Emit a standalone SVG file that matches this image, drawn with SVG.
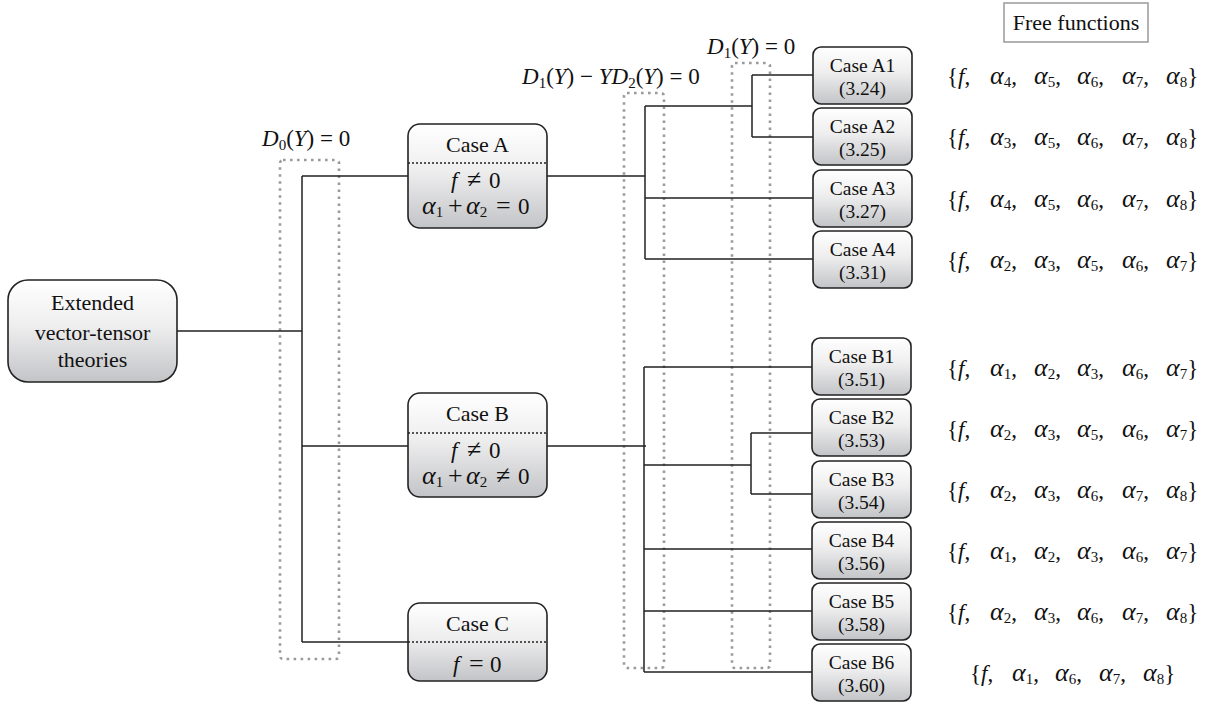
<svg xmlns="http://www.w3.org/2000/svg" width="1220" height="702" viewBox="0 0 1220 702">
<defs>
<linearGradient id="g" x1="0" y1="0" x2="0" y2="1">
<stop offset="0" stop-color="#ffffff"/>
<stop offset="0.45" stop-color="#eeeeef"/>
<stop offset="1" stop-color="#c3c4c7"/>
</linearGradient>
</defs>
<style>
.box{fill:url(#g);stroke:#222;stroke-width:1.6}
.div{stroke:#222;stroke-width:1.4;stroke-dasharray:2 2;fill:none}
.dot{fill:none;stroke:#9a9a9a;stroke-width:2.6;stroke-dasharray:2.6 4.4}
.ln{fill:none;stroke:#222;stroke-width:1.5}
text{font-family:"Liberation Serif","Times New Roman",serif;fill:#111}
.big{font-size:22px;text-anchor:middle}
.sm{font-size:19.5px;text-anchor:middle}
.m{font-size:23px}
.i{font-style:italic}
.a{font-style:italic;font-size:26px}
.sb{font-size:15px;font-style:normal}
.op{font-size:26px}
</style>

<g id="constraints">
<rect class="dot" x="280" y="160" width="59" height="499" rx="3"/>
<rect class="dot" x="624" y="93" width="40" height="575" rx="3"/>
<rect class="dot" x="732" y="63" width="38" height="605" rx="3"/>
<text class="m" x="262" y="146"><tspan class="i">D</tspan><tspan class="sb" dy="4">0</tspan><tspan dy="-4">(</tspan><tspan class="i">Y</tspan><tspan>) = 0</tspan></text>
<text class="m" x="522" y="84"><tspan class="i">D</tspan><tspan class="sb" dy="4">1</tspan><tspan dy="-4">(</tspan><tspan class="i">Y</tspan><tspan>) − </tspan><tspan class="i">YD</tspan><tspan class="sb" dy="4">2</tspan><tspan dy="-4">(</tspan><tspan class="i">Y</tspan><tspan>) = 0</tspan></text>
<text class="m" x="707" y="54"><tspan class="i">D</tspan><tspan class="sb" dy="4">1</tspan><tspan dy="-4">(</tspan><tspan class="i">Y</tspan><tspan>) = 0</tspan></text>
</g>

<g id="connectors">
<path class="ln" d="M177 331 H302 M302 176 V642 M302 176 H408 M302 446 H408 M302 642 H408"/>
<path class="ln" d="M547 176 H645 M645 106 V259 M645 106 H752 M752 75 V137 M752 75 H813 M752 137 H813 M645 198 H813 M645 259 H813"/>
<path class="ln" d="M547 446 H646 M644 367 V672 M644 367 H812 M644 465 H751 M751 433 V494 M751 433 H812 M751 494 H812 M644 549 H812 M644 611 H812 M644 672 H812"/>
</g>

<g id="root">
<rect class="box" x="8" y="280" width="169" height="102" rx="20"/>
<text class="big" x="92.5" y="310">Extended</text>
<text class="big" x="92.5" y="340">vector-tensor</text>
<text class="big" x="92.5" y="367">theories</text>
</g>

<g id="caseA">
<rect class="box" x="408" y="124" width="139" height="104" rx="12"/>
<line class="div" x1="408" y1="163" x2="547" y2="163"/>
<text class="big" x="477.5" y="152">Case A</text>
<text class="m" y="188"><tspan x="451" class="i">f</tspan><tspan x="467" class="op">≠</tspan><tspan x="489">0</tspan></text>
<text class="m" y="214"><tspan x="422" class="a">α</tspan><tspan class="sb" dy="3">1</tspan><tspan dy="-3" x="448" class="op">+</tspan><tspan x="466" class="a">α</tspan><tspan class="sb" dy="3">2</tspan><tspan dy="-3" x="496" class="op">=</tspan><tspan x="518">0</tspan></text>
</g>

<g id="caseB">
<rect class="box" x="408" y="393" width="139" height="104" rx="12"/>
<line class="div" x1="408" y1="433" x2="547" y2="433"/>
<text class="big" x="477.5" y="421">Case B</text>
<text class="m" y="458"><tspan x="451" class="i">f</tspan><tspan x="467" class="op">≠</tspan><tspan x="489">0</tspan></text>
<text class="m" y="484"><tspan x="422" class="a">α</tspan><tspan class="sb" dy="3">1</tspan><tspan dy="-3" x="448" class="op">+</tspan><tspan x="466" class="a">α</tspan><tspan class="sb" dy="3">2</tspan><tspan dy="-3" x="496" class="op">≠</tspan><tspan x="518">0</tspan></text>
</g>

<g id="caseC">
<rect class="box" x="408" y="603" width="139" height="78" rx="12"/>
<line class="div" x1="408" y1="642" x2="547" y2="642"/>
<text class="big" x="477.5" y="631">Case C</text>
<text class="m" y="672"><tspan x="453" class="i">f</tspan><tspan x="469" class="op">=</tspan><tspan x="490">0</tspan></text>
</g>

<g id="caseA1"><rect class="box" x="813" y="47" width="99" height="57" rx="8"/><text class="sm" x="862.5" y="72">Case A1</text><text class="sm" x="862.5" y="95">(3.24)</text></g>
<g id="caseA2"><rect class="box" x="813" y="108" width="99" height="57" rx="8"/><text class="sm" x="862.5" y="133">Case A2</text><text class="sm" x="862.5" y="156">(3.25)</text></g>
<g id="caseA3"><rect class="box" x="813" y="170" width="99" height="57" rx="8"/><text class="sm" x="862.5" y="195">Case A3</text><text class="sm" x="862.5" y="218">(3.27)</text></g>
<g id="caseA4"><rect class="box" x="813" y="231" width="99" height="57" rx="8"/><text class="sm" x="862.5" y="256">Case A4</text><text class="sm" x="862.5" y="279">(3.31)</text></g>

<g id="caseB1"><rect class="box" x="812" y="338" width="99" height="57" rx="8"/><text class="sm" x="861.5" y="363">Case B1</text><text class="sm" x="861.5" y="386">(3.51)</text></g>
<g id="caseB2"><rect class="box" x="812" y="399" width="99" height="57" rx="8"/><text class="sm" x="861.5" y="424">Case B2</text><text class="sm" x="861.5" y="447">(3.53)</text></g>
<g id="caseB3"><rect class="box" x="812" y="461" width="99" height="57" rx="8"/><text class="sm" x="861.5" y="486">Case B3</text><text class="sm" x="861.5" y="509">(3.54)</text></g>
<g id="caseB4"><rect class="box" x="812" y="522" width="99" height="57" rx="8"/><text class="sm" x="861.5" y="547">Case B4</text><text class="sm" x="861.5" y="570">(3.56)</text></g>
<g id="caseB5"><rect class="box" x="812" y="583" width="99" height="57" rx="8"/><text class="sm" x="861.5" y="608">Case B5</text><text class="sm" x="861.5" y="631">(3.58)</text></g>
<g id="caseB6"><rect class="box" x="812" y="644" width="99" height="57" rx="8"/><text class="sm" x="861.5" y="669">Case B6</text><text class="sm" x="861.5" y="692">(3.60)</text></g>

<g id="free-functions">
<rect x="1004" y="3" width="144" height="39" fill="#fff" stroke="#999" stroke-width="1.5"/>
<text class="big" x="1076" y="30">Free functions</text>
<text class="m" y="84"><tspan x="947">{</tspan><tspan class="i">f</tspan>,<tspan x="990" class="a">α</tspan><tspan class="sb" dy="3">4</tspan><tspan dy="-3">,</tspan><tspan x="1034" class="a">α</tspan><tspan class="sb" dy="3">5</tspan><tspan dy="-3">,</tspan><tspan x="1077" class="a">α</tspan><tspan class="sb" dy="3">6</tspan><tspan dy="-3">,</tspan><tspan x="1122" class="a">α</tspan><tspan class="sb" dy="3">7</tspan><tspan dy="-3">,</tspan><tspan x="1166" class="a">α</tspan><tspan class="sb" dy="3">8</tspan><tspan dy="-3">}</tspan></text>
<text class="m" y="145"><tspan x="947">{</tspan><tspan class="i">f</tspan>,<tspan x="990" class="a">α</tspan><tspan class="sb" dy="3">3</tspan><tspan dy="-3">,</tspan><tspan x="1034" class="a">α</tspan><tspan class="sb" dy="3">5</tspan><tspan dy="-3">,</tspan><tspan x="1077" class="a">α</tspan><tspan class="sb" dy="3">6</tspan><tspan dy="-3">,</tspan><tspan x="1122" class="a">α</tspan><tspan class="sb" dy="3">7</tspan><tspan dy="-3">,</tspan><tspan x="1166" class="a">α</tspan><tspan class="sb" dy="3">8</tspan><tspan dy="-3">}</tspan></text>
<text class="m" y="207"><tspan x="947">{</tspan><tspan class="i">f</tspan>,<tspan x="990" class="a">α</tspan><tspan class="sb" dy="3">4</tspan><tspan dy="-3">,</tspan><tspan x="1034" class="a">α</tspan><tspan class="sb" dy="3">5</tspan><tspan dy="-3">,</tspan><tspan x="1077" class="a">α</tspan><tspan class="sb" dy="3">6</tspan><tspan dy="-3">,</tspan><tspan x="1122" class="a">α</tspan><tspan class="sb" dy="3">7</tspan><tspan dy="-3">,</tspan><tspan x="1166" class="a">α</tspan><tspan class="sb" dy="3">8</tspan><tspan dy="-3">}</tspan></text>
<text class="m" y="268"><tspan x="947">{</tspan><tspan class="i">f</tspan>,<tspan x="990" class="a">α</tspan><tspan class="sb" dy="3">2</tspan><tspan dy="-3">,</tspan><tspan x="1034" class="a">α</tspan><tspan class="sb" dy="3">3</tspan><tspan dy="-3">,</tspan><tspan x="1077" class="a">α</tspan><tspan class="sb" dy="3">5</tspan><tspan dy="-3">,</tspan><tspan x="1122" class="a">α</tspan><tspan class="sb" dy="3">6</tspan><tspan dy="-3">,</tspan><tspan x="1166" class="a">α</tspan><tspan class="sb" dy="3">7</tspan><tspan dy="-3">}</tspan></text>
<text class="m" y="376"><tspan x="947">{</tspan><tspan class="i">f</tspan>,<tspan x="990" class="a">α</tspan><tspan class="sb" dy="3">1</tspan><tspan dy="-3">,</tspan><tspan x="1034" class="a">α</tspan><tspan class="sb" dy="3">2</tspan><tspan dy="-3">,</tspan><tspan x="1077" class="a">α</tspan><tspan class="sb" dy="3">3</tspan><tspan dy="-3">,</tspan><tspan x="1122" class="a">α</tspan><tspan class="sb" dy="3">6</tspan><tspan dy="-3">,</tspan><tspan x="1166" class="a">α</tspan><tspan class="sb" dy="3">7</tspan><tspan dy="-3">}</tspan></text>
<text class="m" y="437"><tspan x="947">{</tspan><tspan class="i">f</tspan>,<tspan x="990" class="a">α</tspan><tspan class="sb" dy="3">2</tspan><tspan dy="-3">,</tspan><tspan x="1034" class="a">α</tspan><tspan class="sb" dy="3">3</tspan><tspan dy="-3">,</tspan><tspan x="1077" class="a">α</tspan><tspan class="sb" dy="3">5</tspan><tspan dy="-3">,</tspan><tspan x="1122" class="a">α</tspan><tspan class="sb" dy="3">6</tspan><tspan dy="-3">,</tspan><tspan x="1166" class="a">α</tspan><tspan class="sb" dy="3">7</tspan><tspan dy="-3">}</tspan></text>
<text class="m" y="498"><tspan x="947">{</tspan><tspan class="i">f</tspan>,<tspan x="990" class="a">α</tspan><tspan class="sb" dy="3">2</tspan><tspan dy="-3">,</tspan><tspan x="1034" class="a">α</tspan><tspan class="sb" dy="3">3</tspan><tspan dy="-3">,</tspan><tspan x="1077" class="a">α</tspan><tspan class="sb" dy="3">6</tspan><tspan dy="-3">,</tspan><tspan x="1122" class="a">α</tspan><tspan class="sb" dy="3">7</tspan><tspan dy="-3">,</tspan><tspan x="1166" class="a">α</tspan><tspan class="sb" dy="3">8</tspan><tspan dy="-3">}</tspan></text>
<text class="m" y="559"><tspan x="947">{</tspan><tspan class="i">f</tspan>,<tspan x="990" class="a">α</tspan><tspan class="sb" dy="3">1</tspan><tspan dy="-3">,</tspan><tspan x="1034" class="a">α</tspan><tspan class="sb" dy="3">2</tspan><tspan dy="-3">,</tspan><tspan x="1077" class="a">α</tspan><tspan class="sb" dy="3">3</tspan><tspan dy="-3">,</tspan><tspan x="1122" class="a">α</tspan><tspan class="sb" dy="3">6</tspan><tspan dy="-3">,</tspan><tspan x="1166" class="a">α</tspan><tspan class="sb" dy="3">7</tspan><tspan dy="-3">}</tspan></text>
<text class="m" y="620"><tspan x="947">{</tspan><tspan class="i">f</tspan>,<tspan x="990" class="a">α</tspan><tspan class="sb" dy="3">2</tspan><tspan dy="-3">,</tspan><tspan x="1034" class="a">α</tspan><tspan class="sb" dy="3">3</tspan><tspan dy="-3">,</tspan><tspan x="1077" class="a">α</tspan><tspan class="sb" dy="3">6</tspan><tspan dy="-3">,</tspan><tspan x="1122" class="a">α</tspan><tspan class="sb" dy="3">7</tspan><tspan dy="-3">,</tspan><tspan x="1166" class="a">α</tspan><tspan class="sb" dy="3">8</tspan><tspan dy="-3">}</tspan></text>
<text class="m" y="681"><tspan x="970">{</tspan><tspan class="i">f</tspan>,<tspan x="1012" class="a">α</tspan><tspan class="sb" dy="3">1</tspan><tspan dy="-3">,</tspan><tspan x="1055" class="a">α</tspan><tspan class="sb" dy="3">6</tspan><tspan dy="-3">,</tspan><tspan x="1099" class="a">α</tspan><tspan class="sb" dy="3">7</tspan><tspan dy="-3">,</tspan><tspan x="1143" class="a">α</tspan><tspan class="sb" dy="3">8</tspan><tspan dy="-3">}</tspan></text>
</g>
</svg>
